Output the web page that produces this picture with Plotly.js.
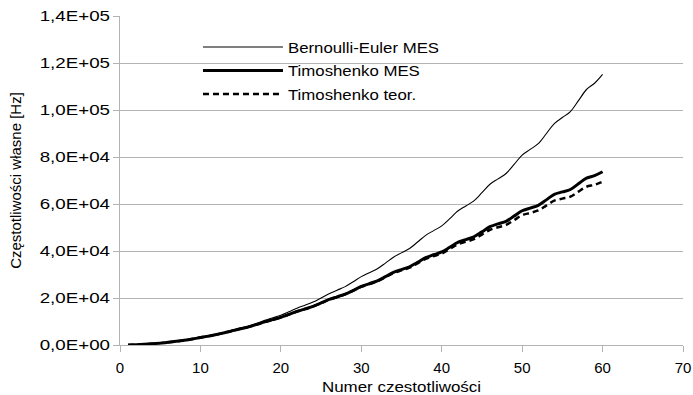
<!DOCTYPE html>
<html>
<head>
<meta charset="utf-8">
<script src="https://cdn.plot.ly/plotly-3.0.1.min.js"></script>
<style>html,body{margin:0;padding:0;background:#fff;}#chart{width:693px;height:395px;}</style>
</head>
<body>
<div id="chart"></div>
<script>
const modeNumbers = Array.from({length: 60}, (_, i) => i + 1);

const bernoulliEulerMES = [
  32, 129, 288, 507, 800, 1164, 1568, 2028, 2592, 3232,
  3872, 4562, 5408, 6335, 7200, 8110, 9248, 10472, 11552, 12672,
  14112, 15643, 16928, 18248, 20000, 21848, 23328, 24837, 26912, 29088,
  30752, 32440, 34848, 37362, 39200, 41057, 43808, 46670, 48672, 50688,
  53792, 57012, 59168, 61332, 64800, 68389, 70688, 72991, 76832, 80800,
  83232, 85663, 89888, 94245, 96800, 99348, 103968, 108724, 111392, 115200
];

const timoshenkoMES = [
  32, 129, 287, 505, 796, 1156, 1552, 2004, 2551, 3171,
  3783, 4434, 5235, 6101, 6898, 7721, 8749, 9844, 10790, 11760,
  12997, 14298, 15354, 16441, 17880, 19379, 20505, 21658, 23252, 24928,
  26108, 27314, 29063, 30898, 32105, 33297, 35222, 37149, 38402, 39587,
  41581, 43671, 44849, 46060, 48146, 50334, 51532, 52627, 54858, 57126,
  58262, 59450, 61753, 64087, 65146, 66166, 68619, 70997, 72071, 73728
];

const timoshenkoTeor = [
  32, 129, 287, 505, 796, 1155, 1551, 2003, 2549, 3168,
  3779, 4429, 5229, 6093, 6888, 7709, 8734, 9826, 10768, 11735,
  12966, 14258, 15305, 16382, 17807, 19290, 20398, 21532, 23103, 24751,
  25902, 27078, 28787, 30577, 31742, 32887, 34749, 36610, 37799, 38918,
  40824, 42815, 43907, 45024, 46990, 49040, 50120, 51090, 53157, 55241,
  56223, 57244, 59326, 61421, 62286, 63103, 65264, 67341, 68165, 69526
];

const seriesNames = ['Bernoulli-Euler MES', 'Timoshenko MES', 'Timoshenko teor.'];

const yTickVals = [0, 20000, 40000, 60000, 80000, 100000, 120000, 140000];
const yTickText = ['0,0E+00', '2,0E+04', '4,0E+04', '6,0E+04', '8,0E+04', '1,0E+05', '1,2E+05', '1,4E+05'];
const xTickVals = [0, 10, 20, 30, 40, 50, 60, 70];

const font = 'Liberation Sans, Arial, sans-serif';
const axisGray = '#b3b3b3';

const traces = [
  {x: modeNumbers, y: bernoulliEulerMES, name: seriesNames[0], mode: 'lines', legendgroup: 'a',
   line: {color: '#000', width: 1.1, shape: 'spline', smoothing: 1}},
  {x: modeNumbers, y: timoshenkoMES, name: seriesNames[1], mode: 'lines', legendgroup: 'b',
   line: {color: '#000', width: 3, shape: 'spline', smoothing: 1}},
  {x: modeNumbers, y: timoshenkoTeor, name: seriesNames[2], mode: 'lines', legendgroup: 'c',
   line: {color: '#000', width: 2.5, dash: '6px,4px', shape: 'spline', smoothing: 1}}
];

const layout = {
  width: 693, height: 395,
  margin: {l: 120, r: 10, t: 16, b: 50},
  paper_bgcolor: '#fff', plot_bgcolor: '#fff',
  font: {family: font, size: 15, color: '#000'},
  showlegend: true,
  legend: {x: 0.1385, y: 0.955, xanchor: 'left', yanchor: 'top', traceorder: 'grouped',
           bgcolor: 'rgba(0,0,0,0)', itemwidth: 80, tracegroupgap: 1,
           font: {family: font, size: 15, color: '#000'}},
  xaxis: {range: [0, 70], tickvals: xTickVals, ticks: 'outside', ticklen: 6, tickcolor: axisGray,
          showline: true, linecolor: axisGray, linewidth: 1, showgrid: false, zeroline: false,
          ticklabelstandoff: 3,
          tickfont: {family: font, size: 15, color: '#000'},
          title: {text: 'Numer czestotliwości', font: {family: font, size: 15, color: '#000'}, standoff: 8}},
  yaxis: {range: [0, 140000], tickvals: yTickVals, ticktext: yTickText, ticks: 'outside', ticklen: 6,
          tickcolor: axisGray, showline: true, linecolor: axisGray, linewidth: 1,
          showgrid: true, gridcolor: axisGray, gridwidth: 1, zeroline: false,
          tickfont: {family: font, size: 15, color: '#000'},
          title: {text: 'Częstotliwości własne [Hz]', font: {family: font, size: 15, color: '#000'}, standoff: 28}}
};

function stretchText(selector, s) {
  document.querySelectorAll(selector).forEach(t => {
    const bb = t.getBBox();
    const anchor = t.getAttribute('text-anchor') || 'start';
    let ax = bb.x;
    if (anchor === 'end') ax = bb.x + bb.width;
    else if (anchor === 'middle') ax = bb.x + bb.width / 2;
    const tr = t.getAttribute('transform') || '';
    t.setAttribute('transform', tr + ' translate(' + ax + ',0) scale(' + s + ',1) translate(' + (-ax) + ',0)');
  });
}

Plotly.newPlot('chart', traces, layout, {displayModeBar: false, staticPlot: true}).then(() => {
  document.querySelectorAll('.legend [clip-path]').forEach(e => e.removeAttribute('clip-path'));
  stretchText('.ytick text', 1.25);
  stretchText('.legendtext', 1.12);
  stretchText('.g-xtitle text', 1.13);
});
</script>
</body>
</html>
